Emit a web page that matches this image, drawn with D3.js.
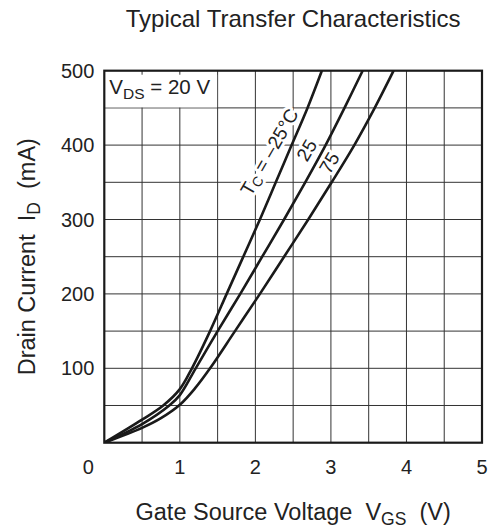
<!DOCTYPE html>
<html>
<head>
<meta charset="utf-8">
<script src="https://cdn.jsdelivr.net/npm/d3@7"></script>
<style>
  html, body { margin: 0; padding: 0; background: #fff; }
  svg { display: block; font-family: "Liberation Sans", Arial, Helvetica, sans-serif; }
  text { white-space: pre; }
</style>
</head>
<body>
<svg id="chart" width="494" height="531"></svg>
<script>
// Transfer curves (VGS in V, ID in mA)
const vgsMinus25 = [0, 0.5, 0.78, 1.0, 1.16, 1.40, 1.62, 1.84, 2.06, 2.27, 2.48, 2.69, 2.88];
const idMinus25  = [0, 31, 50, 72, 100, 150, 200, 250, 300, 350, 400, 450, 500];
const vgs25 = [0, 0.5, 0.86, 1.0, 1.21, 1.50, 1.80, 2.09, 2.38, 2.66, 2.93, 3.18, 3.42];
const id25  = [0, 25, 50, 64, 100, 150, 200, 250, 300, 350, 400, 450, 500];
const vgs75 = [0, 0.5, 0.75, 1.0, 1.2, 1.40, 1.73, 2.06, 2.38, 2.70, 3.01, 3.31, 3.58, 3.83];
const id75  = [0, 20, 33, 51, 73, 100, 150, 200, 250, 300, 350, 400, 450, 500];

const xTicks = [1, 2, 3, 4, 5];
const yTicks = [100, 200, 300, 400, 500];

const width = 494, height = 531;
const margin = { top: 70.7, right: 12, bottom: 88.3, left: 104.3 };
const iw = width - margin.left - margin.right;
const ih = height - margin.top - margin.bottom;

const x = d3.scaleLinear().domain([0, 5]).range([0, iw]);
const y = d3.scaleLinear().domain([0, 500]).range([ih, 0]);

const svg = d3.select('#chart');
const g = svg.append('g').attr('transform', `translate(${margin.left},${margin.top})`);

// Title
svg.append('text')
  .attr('x', margin.left + iw / 2).attr('y', 26.5)
  .attr('text-anchor', 'middle')
  .attr('font-size', 24)
  .attr('fill', '#222')
  .text('Typical Transfer Characteristics');

// Grid (every 0.5 V and 50 mA)
g.append('g')
  .selectAll('line')
  .data(d3.range(1, 10).map(i => i * 0.5))
  .join('line')
    .attr('x1', d => x(d)).attr('x2', d => x(d))
    .attr('y1', 0).attr('y2', ih)
    .attr('stroke', '#333').attr('stroke-width', 1);

g.append('g')
  .selectAll('line')
  .data(d3.range(1, 10).map(i => i * 50))
  .join('line')
    .attr('x1', 0).attr('x2', iw)
    .attr('y1', d => y(d)).attr('y2', d => y(d))
    .attr('stroke', '#333').attr('stroke-width', 1);

// VDS condition box — white cell block with the grid as its border
g.append('rect')
  .attr('x', x(0)).attr('y', y(500) + 4)
  .attr('width', x(1.5) - x(0) - 0.5)
  .attr('height', y(450) - y(500) - 4.5)
  .attr('fill', '#fff');
const vds = g.append('text')
  .attr('x', x(0) + 5).attr('y', y(500) + 23)
  .attr('font-size', 20.5)
  .attr('fill', '#222');
vds.append('tspan').text('V');
vds.append('tspan').attr('font-size', 15.5).attr('dy', 5).text('DS');
vds.append('tspan').attr('dy', -5).text(' = 20 V');

// Curve labels (white halo cuts the grid behind them, as in the reference)
const angle = -60;
const labelStyle = sel => sel
  .attr('text-anchor', 'middle')
  .attr('dominant-baseline', 'central')
  .attr('font-size', 19)
  .attr('fill', '#222')
  .attr('stroke', '#fff')
  .attr('stroke-width', 6)
  .attr('stroke-linejoin', 'round')
  .attr('paint-order', 'stroke');

const tc = g.append('text')
  .attr('transform', `translate(${x(2.18)},${y(391)}) rotate(${angle})`)
  .call(labelStyle);
tc.append('tspan').text('T');
tc.append('tspan').attr('font-size', 14).attr('dy', 5).text('C');
tc.append('tspan').attr('dy', -5).text(' = \u201325\u00B0C');

[['25', 2.68, 393], ['75', 2.98, 376]].forEach(([t, v, i]) => {
  g.append('text')
    .attr('transform', `translate(${x(v)},${y(i)}) rotate(${angle})`)
    .call(labelStyle)
    .text(t);
});

// Curves
const series = [
  { v: vgsMinus25, i: idMinus25 },
  { v: vgs25, i: id25 },
  { v: vgs75, i: id75 }
];

svg.append('defs').append('clipPath').attr('id', 'plot-clip')
  .append('rect').attr('width', iw).attr('height', ih);

const line = d3.line()
  .x(d => x(d[0]))
  .y(d => y(d[1]))
  .curve(d3.curveCatmullRom.alpha(0.5));

g.append('g')
  .attr('clip-path', 'url(#plot-clip)')
  .selectAll('path')
  .data(series)
  .join('path')
    .attr('d', s => line(s.v.map((v, k) => [v, s.i[k]])))
    .attr('fill', 'none')
    .attr('stroke', '#1a1a1a')
    .attr('stroke-width', 2.6)
    .attr('stroke-linejoin', 'round');

// Frame
g.append('rect')
  .attr('width', iw).attr('height', ih)
  .attr('fill', 'none')
  .attr('stroke', '#1a1a1a')
  .attr('stroke-width', 2.2);

// Tick labels
g.selectAll('text.xt')
  .data(xTicks)
  .join('text')
    .attr('class', 'xt')
    .attr('x', d => x(d)).attr('y', ih + 31)
    .attr('text-anchor', 'middle')
    .attr('font-size', 20)
    .attr('fill', '#222')
    .text(d => d);

g.append('text')
  .attr('x', -16).attr('y', ih + 31)
  .attr('text-anchor', 'middle')
  .attr('font-size', 20)
  .attr('fill', '#222')
  .text('0');

g.selectAll('text.yt')
  .data(yTicks)
  .join('text')
    .attr('class', 'yt')
    .attr('x', -10).attr('y', d => y(d))
    .attr('dy', '0.36em')
    .attr('text-anchor', 'end')
    .attr('font-size', 20)
    .attr('fill', '#222')
    .text(d => d);

// Axis titles
const xt = svg.append('text')
  .attr('x', margin.left + iw / 2).attr('y', 520)
  .attr('text-anchor', 'middle')
  .attr('font-size', 23.5)
  .attr('fill', '#222');
xt.append('tspan').text('Gate Source Voltage  V');
xt.append('tspan').attr('font-size', 17.5).attr('dy', 5).text('GS');
xt.append('tspan').attr('dy', -5).text('  (V)');

const yt = svg.append('text')
  .attr('transform', `translate(35,${margin.top + ih / 2}) rotate(-90)`)
  .attr('text-anchor', 'middle')
  .attr('font-size', 23.5)
  .attr('fill', '#222');
yt.append('tspan').text('Drain Current  I');
yt.append('tspan').attr('font-size', 17.5).attr('dy', 5).text('D');
yt.append('tspan').attr('dy', -5).text('  (mA)');
</script>
</body>
</html>
